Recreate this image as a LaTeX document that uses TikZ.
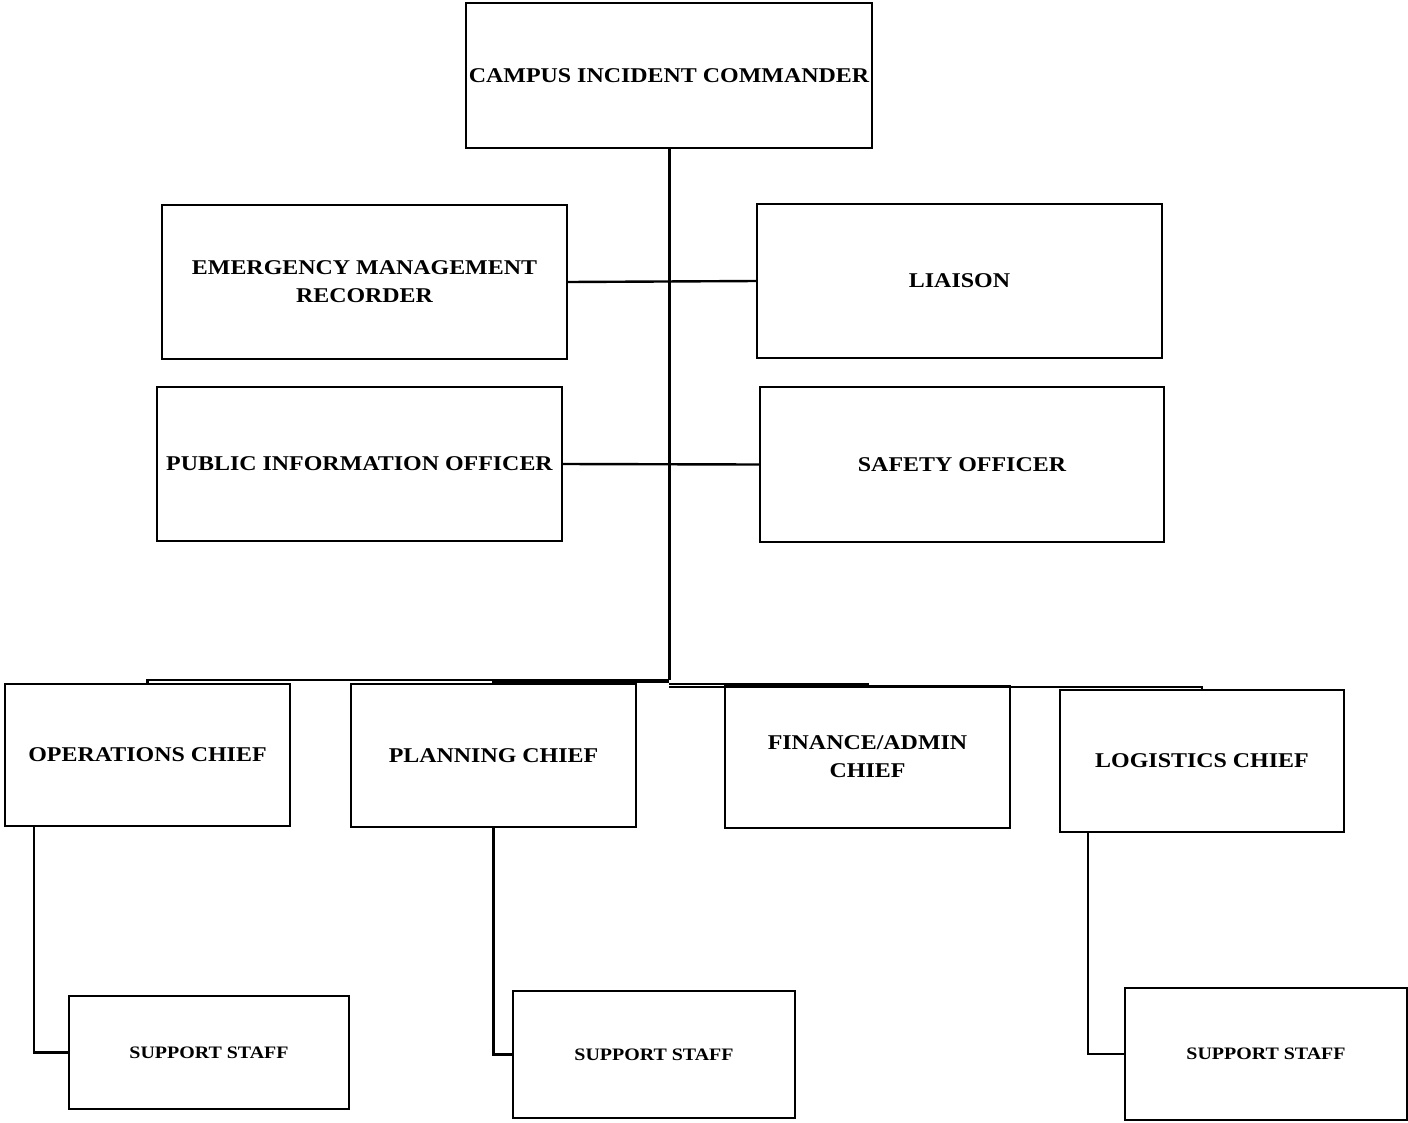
\documentclass[tikz,border=0pt]{standalone}
\usepackage{fontspec}
\setmainfont[FakeStretch=1.14]{Liberation Serif}
\begin{document}
\begin{tikzpicture}[x=1pt,y=-1pt,
  box/.style={draw, line width=2.2pt, align=center, inner sep=0pt,
    font=\bfseries\fontsize{21}{28}\selectfont},
  small/.style={box, font=\bfseries\fontsize{17.5}{22}\selectfont},
  conn/.style={line width=2.4pt},
  trunk/.style={line width=3pt}]
\useasboundingbox (0,0) rectangle (1408,1122);
% top
\node[box, minimum width=406pt, minimum height=145pt] (cic) at (669,75.5) {CAMPUS INCIDENT COMMANDER};
% staff
\node[box, minimum width=405pt, minimum height=154pt] (emr) at (364.5,282) {EMERGENCY MANAGEMENT\\RECORDER};
\node[box, minimum width=405pt, minimum height=154pt] (lia) at (959.5,281) {LIAISON};
\node[box, minimum width=405pt, minimum height=154pt] (pio) at (359.5,464) {PUBLIC INFORMATION OFFICER};
\node[box, minimum width=404pt, minimum height=155pt] (saf) at (962,464.5) {SAFETY OFFICER};
% chiefs
\node[box, minimum width=285pt, minimum height=142pt] (ops) at (147.5,755) {OPERATIONS CHIEF};
\node[box, minimum width=285pt, minimum height=143pt] (pla) at (493.5,755.5) {PLANNING CHIEF};
\node[box, minimum width=285pt, minimum height=142pt] (fin) at (867.5,757) {FINANCE/ADMIN\\CHIEF};
\node[box, minimum width=284pt, minimum height=142pt] (log) at (1202,761) {LOGISTICS CHIEF};
% support
\node[small, minimum width=280pt, minimum height=113pt] (s1) at (209,1052.5) {SUPPORT STAFF};
\node[small, minimum width=282pt, minimum height=127pt] (s2) at (654,1054.5) {SUPPORT STAFF};
\node[small, minimum width=282pt, minimum height=132pt] (s3) at (1266,1054) {SUPPORT STAFF};
% connectors
\coordinate (tb) at (669,680);
\draw[trunk] (cic.south) -- (tb);
\draw[conn] (emr.east) -- (lia.west);
\draw[conn] (pio.east) -- (saf.west);
\coordinate (j1) at (669,680);
\coordinate (j2) at (669,682);
\coordinate (j3) at (669,684);
\coordinate (j4) at (669,687);
\draw[conn] (j1) -| (ops.north);
\draw[conn] (j2) -| (pla.north);
\draw[conn] (j3) -| (fin.north);
\draw[conn] (j4) -| (log.north);
\draw[conn] ([xshift=-113.5pt]ops.south) |- (s1.west);
\draw[conn] (pla.south) |- (s2.west);
\draw[conn] ([xshift=-114pt]log.south) |- (s3.west);
\end{tikzpicture}
\end{document}
